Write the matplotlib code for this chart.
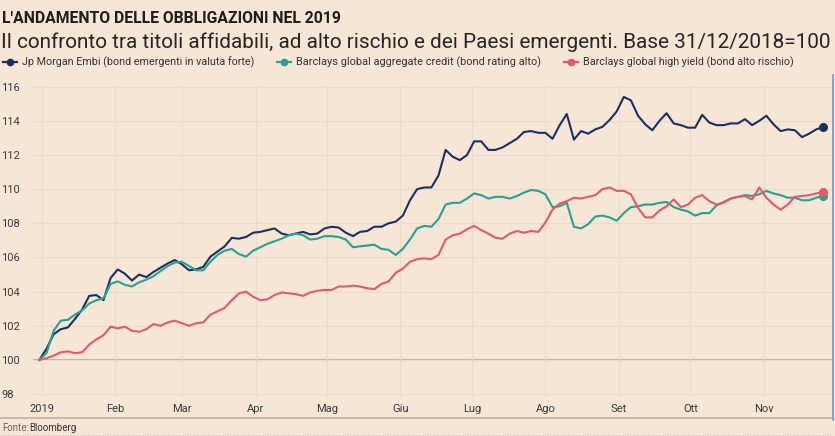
import matplotlib
matplotlib.use("Agg")
import matplotlib.pyplot as plt
from matplotlib.lines import Line2D
import pandas as pd

# date grid (every 3 days, base 31/12/2018)
dates = pd.date_range("2018-12-31", "2019-11-26", freq="3D")

jpm_embi = [
    100.0, 100.65, 101.5, 101.8, 101.9, 102.4, 102.95, 103.75, 103.8, 103.5,
    104.8, 105.3, 105.05, 104.65, 105.0, 104.85, 105.15, 105.4, 105.65, 105.85,
    105.6, 105.25, 105.3, 105.45, 106.05, 106.35, 106.65, 107.15, 107.1, 107.2,
    107.45, 107.5, 107.6, 107.7, 107.4, 107.3, 107.4, 107.5, 107.35, 107.4,
    107.7, 107.8, 107.75, 107.45, 107.25, 107.5, 107.55, 107.8, 107.8, 108.0,
    108.1, 108.45, 109.35, 110.0, 110.1, 110.1, 110.8, 112.3, 111.9, 111.7,
    112.0, 112.8, 112.8, 112.3, 112.3, 112.45, 112.7, 112.95, 113.35, 113.4,
    113.3, 113.3, 112.95, 113.75, 114.4, 112.9, 113.4, 113.25, 113.5, 113.65,
    114.05, 114.55, 115.4, 115.2, 114.3, 113.8, 113.45, 114.0, 114.45, 113.85,
    113.75, 113.6, 113.6, 114.35, 113.9, 113.75, 113.75, 113.85, 113.85, 114.1,
    113.75, 114.0, 114.3, 113.8, 113.4, 113.5, 113.45, 113.05, 113.25, 113.5,
    113.65,
]

barclays_aggregate = [
    100.0, 100.4, 101.7, 102.3, 102.35, 102.65, 102.9, 103.3, 103.5, 103.6,
    104.45, 104.6, 104.4, 104.3, 104.55, 104.7, 104.9, 105.2, 105.5, 105.7,
    105.75, 105.5, 105.25, 105.25, 105.75, 106.15, 106.4, 106.5, 106.2, 106.05,
    106.4, 106.6, 106.8, 106.95, 107.1, 107.3, 107.4, 107.3, 107.05, 107.1,
    107.25, 107.25, 107.2, 107.05, 106.6, 106.65, 106.7, 106.75, 106.5, 106.45,
    106.15, 106.5, 107.05, 107.7, 107.85, 107.8, 108.25, 109.1, 109.2, 109.2,
    109.45, 109.75, 109.65, 109.45, 109.55, 109.55, 109.45, 109.6, 109.8, 109.95,
    109.9, 109.7, 108.95, 109.0, 109.2, 107.8, 107.7, 107.95, 108.4, 108.45,
    108.35, 108.15, 108.6, 108.95, 109.0, 109.1, 109.1, 109.2, 109.25, 108.95,
    108.8, 108.7, 108.45, 108.6, 108.6, 109.05, 109.25, 109.45, 109.55, 109.65,
    109.6, 109.7, 109.9, 109.75, 109.65, 109.5, 109.5, 109.35, 109.35, 109.5,
    109.6,
]

barclays_high_yield = [
    100.0, 100.1, 100.25, 100.45, 100.5, 100.4, 100.45, 100.9, 101.2, 101.45,
    101.95, 101.85, 101.95, 101.7, 101.65, 101.8, 102.1, 102.0, 102.2, 102.3,
    102.15, 102.0, 102.15, 102.2, 102.65, 102.85, 103.05, 103.5, 103.9, 104.0,
    103.7, 103.5, 103.55, 103.8, 103.95, 103.9, 103.85, 103.75, 103.95, 104.05,
    104.1, 104.1, 104.3, 104.3, 104.35, 104.3, 104.2, 104.15, 104.45, 104.6,
    105.1, 105.35, 105.75, 105.9, 105.95, 105.9, 106.15, 107.05, 107.3, 107.4,
    107.65, 107.85, 107.6, 107.4, 107.15, 107.1, 107.4, 107.55, 107.45, 107.55,
    107.5, 108.05, 108.8, 109.15, 109.3, 109.5, 109.45, 109.55, 109.65, 110.0,
    110.1, 109.9, 109.9, 109.7, 108.9, 108.35, 108.35, 108.75, 109.0, 109.4,
    108.95, 109.1, 109.5, 109.65, 109.3, 109.1, 109.2, 109.45, 109.55, 109.6,
    109.4, 110.1, 109.5, 109.1, 108.8, 109.1, 109.55, 109.6, 109.65, 109.75,
    109.85,
]

series_names = [
    "Jp Morgan Embi (bond emergenti in valuta forte)",
    "Barclays global aggregate credit (bond rating alto)",
    "Barclays global high yield (bond alto rischio)",
]
series_colors = ["#1c2f5f", "#28a092", "#e2596b"]

month_ticks = pd.date_range("2019-01-01", "2019-11-01", freq="MS")
month_labels = ["2019", "Feb", "Mar", "Apr", "Mag", "Giu", "Lug", "Ago", "Set", "Ott", "Nov"]
y_ticks = [98, 100, 102, 104, 106, 108, 110, 112, 114, 116]

bg = "#f6e6d6"
W, H = 835, 436
fam = ["Roboto", "DejaVu Sans"]

fig = plt.figure(figsize=(W / 100, H / 100), dpi=100, facecolor=bg)
ax = fig.add_axes([33 / W, (H - 397) / H, (832 - 33) / W, (397 - 85) / H])
ax.set_facecolor(bg)

for vals, col in zip([jpm_embi, barclays_aggregate, barclays_high_yield], series_colors):
    ax.plot(dates, vals, color=col, lw=1.5, solid_joinstyle="round", zorder=3)
    ax.plot(dates[-1:], vals[-1:], "o", color=col, ms=5.5, zorder=4)

ax.set_ylim(97.83, 116.1)
ax.set_xlim(pd.Timestamp("2018-12-28 08:00"), pd.Timestamp("2019-11-29 15:00"))
ax.set_yticks(y_ticks)
ax.set_xticks(month_ticks)
ax.set_xticklabels(month_labels)
ax.grid(True, color="#eadccb", lw=0.8, zorder=0)
ax.axhline(100, color="#b9a48c", lw=1.1, zorder=1)
for s in ax.spines.values():
    s.set_visible(False)
ax.tick_params(length=0, labelsize=8, colors="#3a3a3a")
ax.tick_params(axis="y", pad=23)
ax.tick_params(axis="x", pad=5)
for lab in ax.get_yticklabels():
    lab.set_horizontalalignment("left")
    lab.set_fontfamily(fam)
for lab in ax.get_xticklabels():
    lab.set_fontfamily(fam)

renderer = fig.canvas.get_renderer()


def fit_width(txt, target_px, start_size):
    # shrink/grow the font so the text spans roughly target_px
    txt.set_fontsize(start_size)
    w = txt.get_window_extent(renderer).width
    txt.set_fontsize(start_size * target_px / w)


# header texts
title = fig.text(2 / W, 1 - 23 / H, "L'ANDAMENTO DELLE OBBLIGAZIONI NEL 2019", family=fam,
                 fontweight="bold", color="#1e1e1e", va="baseline")
fit_width(title, 340, 12)
sub = fig.text(1 / W, 1 - 48 / H,
               "Il confronto tra titoli affidabili, ad alto rischio e dei Paesi emergenti. Base 31/12/2018=100",
               family=fam, color="#262626", va="baseline")
fit_width(sub, 826, 12)

# legend row
leg_x = [3, 277, 564]
leg_w = [232, 247, 212]
for x0, col, name, tw in zip(leg_x, series_colors, series_names, leg_w):
    yy = 1 - 62 / H
    fig.add_artist(Line2D([x0 / W, (x0 + 14) / W], [yy, yy], color=col, lw=1.6))
    fig.add_artist(Line2D([(x0 + 7) / W], [yy], marker="o", color=col, ms=4.5))
    t = fig.text((x0 + 19) / W, yy, name, family=fam, color="#333333", va="center")
    fit_width(t, tw, 7)

# footer
fig.add_artist(Line2D([0, 832 / W], [1 - 418 / H, 1 - 418 / H], color="#cdb9a3", lw=1.4))
fig.text(2 / W, 1 - 428 / H, "Fonte:", family=fam, fontsize=7, color="#666666", va="center")
fig.text(29 / W, 1 - 428 / H, "Bloomberg", family=fam, fontsize=7, color="#333333", va="center")
fig.add_artist(Line2D([0, 832 / W], [1 - 435 / H, 1 - 435 / H], color="#bfb2a5", lw=0.6, ls=(0, (1, 2))))
fig.add_artist(Line2D([833 / W, 833 / W], [1 - 420 / H, 1 - 75 / H], color="#6f93d8", lw=1.2))

fig.savefig("out.png", dpi=100, facecolor=bg)
